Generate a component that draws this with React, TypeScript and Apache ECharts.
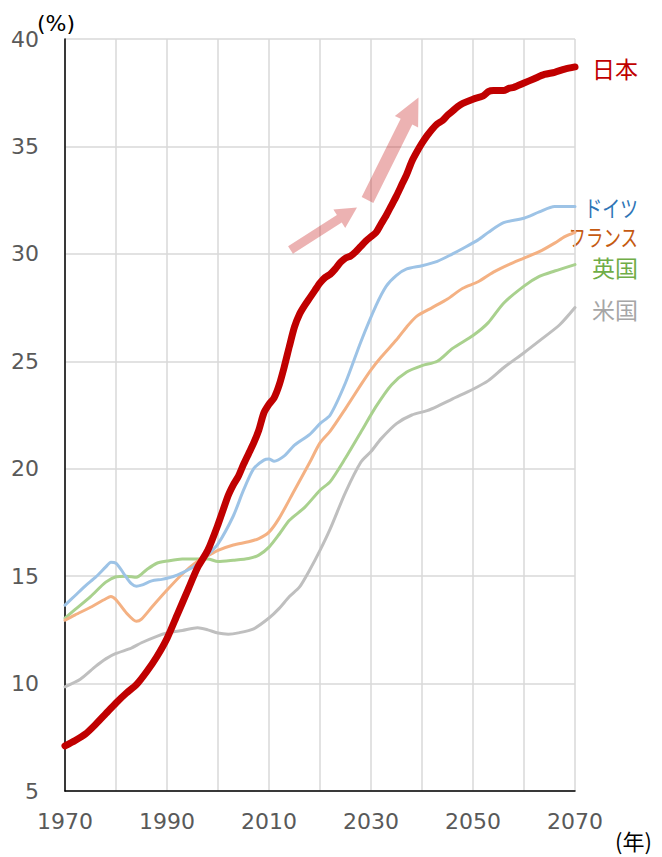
import React, { useEffect, useRef } from "react";
import * as echarts from "echarts";

// [year, % of population aged 65+]
const japanData: [number, number][] = [
  [1970, 7.1], [1972, 7.35], [1974, 7.65], [1976, 8.1], [1978, 8.6], [1980, 9.1], [1982, 9.55],
  [1984, 9.95], [1986, 10.55], [1988, 11.25], [1990, 12.1], [1992, 13.2], [1994, 14.3], [1996, 15.4],
  [1998, 16.2], [2000, 17.4], [2002, 18.75], [2003, 19.25], [2004, 19.65], [2005, 20.2], [2006, 20.7],
  [2007, 21.2], [2008, 21.8], [2009, 22.6], [2010, 23.0], [2011, 23.3], [2012, 23.9], [2013, 24.75],
  [2014, 25.7], [2015, 26.6], [2016, 27.2], [2017, 27.6], [2018, 27.95], [2019, 28.3], [2020, 28.65],
  [2021, 28.9], [2022, 29.05], [2023, 29.3], [2024, 29.6], [2025, 29.8], [2026, 29.9], [2027, 30.1],
  [2028, 30.35], [2029, 30.6], [2030, 30.8], [2031, 31.0], [2032, 31.4], [2033, 31.8], [2034, 32.25],
  [2035, 32.7], [2036, 33.2], [2037, 33.7], [2038, 34.3], [2039, 34.75], [2040, 35.15], [2041, 35.5],
  [2042, 35.8], [2043, 36.05], [2044, 36.2], [2045, 36.45], [2046, 36.65], [2047, 36.85], [2048, 37.0],
  [2050, 37.2], [2052, 37.35], [2053, 37.55], [2054, 37.6], [2056, 37.6], [2057, 37.7], [2058, 37.75],
  [2060, 37.95], [2062, 38.15], [2064, 38.35], [2066, 38.45], [2068, 38.6], [2070, 38.7],
];

const germanyData: [number, number][] = [
  [1970, 13.65], [1972, 14.1], [1974, 14.55], [1976, 14.95], [1978, 15.43], [1979, 15.65], [1980, 15.6],
  [1981, 15.3], [1982, 14.95], [1983, 14.65], [1984, 14.53], [1985, 14.58], [1987, 14.78], [1989, 14.85],
  [1990, 14.9], [1992, 15.05], [1995, 15.4], [1997, 15.75], [1998, 15.98], [2000, 16.5], [2003, 17.8],
  [2005, 19.0], [2007, 20.0], [2009, 20.4], [2010, 20.45], [2011, 20.35], [2013, 20.6], [2015, 21.1],
  [2018, 21.6], [2020, 22.1], [2022, 22.5], [2025, 24.0], [2028, 25.9], [2031, 27.6], [2033, 28.5],
  [2035, 29.0], [2037, 29.3], [2040, 29.45], [2043, 29.65], [2046, 30.0], [2048, 30.25], [2051, 30.65],
  [2053, 31.0], [2056, 31.45], [2060, 31.66], [2063, 31.95], [2066, 32.2], [2070, 32.2],
];

const franceData: [number, number][] = [
  [1970, 12.95], [1972, 13.2], [1975, 13.55], [1978, 13.95], [1979, 14.05], [1980, 13.9], [1982, 13.3],
  [1984, 12.9], [1985, 13.0], [1987, 13.55], [1990, 14.35], [1993, 15.1], [1996, 15.7], [1998, 15.95],
  [2000, 16.2], [2003, 16.45], [2006, 16.6], [2008, 16.75], [2010, 17.05], [2012, 17.7], [2015, 19.0],
  [2018, 20.3], [2020, 21.2], [2022, 21.75], [2025, 22.8], [2028, 23.9], [2030, 24.6], [2032, 25.2],
  [2035, 26.0], [2037, 26.6], [2039, 27.1], [2042, 27.5], [2045, 27.9], [2048, 28.4], [2051, 28.7],
  [2054, 29.15], [2057, 29.5], [2060, 29.8], [2063, 30.1], [2066, 30.5], [2068, 30.8], [2070, 31.0],
];

const ukData: [number, number][] = [
  [1970, 13.05], [1972, 13.45], [1975, 14.05], [1978, 14.72], [1980, 14.97], [1982, 15.0], [1984, 14.95],
  [1986, 15.3], [1988, 15.6], [1990, 15.7], [1993, 15.8], [1997, 15.8], [1998, 15.8], [2000, 15.68],
  [2003, 15.74], [2006, 15.82], [2008, 15.98], [2010, 16.35], [2012, 16.95], [2014, 17.6], [2017, 18.2],
  [2020, 19.0], [2022, 19.4], [2025, 20.5], [2028, 21.7], [2031, 22.9], [2034, 23.9], [2037, 24.5],
  [2040, 24.8], [2043, 25.0], [2046, 25.6], [2050, 26.2], [2053, 26.8], [2056, 27.7], [2060, 28.5],
  [2063, 28.95], [2066, 29.2], [2070, 29.5],
];

const usData: [number, number][] = [
  [1970, 9.85], [1973, 10.2], [1976, 10.8], [1978, 11.15], [1980, 11.4], [1983, 11.65], [1985, 11.9],
  [1988, 12.2], [1990, 12.35], [1993, 12.47], [1996, 12.6], [1998, 12.5], [2000, 12.35], [2002, 12.3],
  [2004, 12.36], [2007, 12.55], [2010, 13.05], [2012, 13.5], [2014, 14.05], [2016, 14.5], [2018, 15.3],
  [2020, 16.2], [2022, 17.2], [2025, 18.9], [2028, 20.3], [2030, 20.8], [2032, 21.4], [2035, 22.1],
  [2038, 22.5], [2041, 22.7], [2043, 22.9], [2046, 23.25], [2050, 23.7], [2053, 24.1], [2056, 24.7],
  [2060, 25.4], [2063, 25.95], [2067, 26.7], [2070, 27.5],
];

const seriesNames = ["米国", "英国", "フランス", "ドイツ", "日本"];
const yTicks = { min: 5, max: 40, interval: 5 };
const xTicks = { min: 1970, max: 2070, interval: 10, labelStep: 20 };

function arrowPoints(x0: number, y0: number, x1: number, y1: number, sw: number, hw: number, hl: number) {
  const L = Math.hypot(x1 - x0, y1 - y0);
  const ux = (x1 - x0) / L, uy = (y1 - y0) / L;
  const nx = -uy, ny = ux;
  const bx = x1 - ux * hl, by = y1 - uy * hl;
  return [
    [x0 + nx * sw / 2, y0 + ny * sw / 2],
    [bx + nx * sw / 2, by + ny * sw / 2],
    [bx + nx * hw / 2, by + ny * hw / 2],
    [x1, y1],
    [bx - nx * hw / 2, by - ny * hw / 2],
    [bx - nx * sw / 2, by - ny * sw / 2],
    [x0 - nx * sw / 2, y0 - ny * sw / 2],
  ];
}

export default function App() {
  const ref = useRef<HTMLDivElement>(null);
  useEffect(() => {
    if (!ref.current) return;
    const chart = echarts.init(ref.current, null, { renderer: "svg" });
    const numFont = "'DejaVu Sans', Verdana, sans-serif";
    const cjkFont = "'Noto Sans CJK JP', sans-serif";
    const mk = (name: string, data: [number, number][], color: string, width: number) => ({
      name,
      type: "line",
      data,
      smooth: 0.25,
      showSymbol: false,
      symbol: "none",
      lineStyle: { color, width, cap: "round", join: "round" },
      itemStyle: { color },
    });
    const arrowFill = "rgba(192,0,0,0.3)";
    const lbl = (text: string, y: number, fill: string, sx: number) => ({
      type: "text", x: 638, y, scaleX: sx,
      style: { text, fill, font: `23px ${cjkFont}`, textAlign: "right", textVerticalAlign: "middle" },
    });
    chart.setOption({
      animation: false,
      grid: { left: 65, right: 87, top: 39, bottom: 66, containLabel: false },
      xAxis: {
        type: "value",
        min: xTicks.min,
        max: xTicks.max,
        interval: xTicks.interval,
        axisLine: { show: true, lineStyle: { color: "#000", width: 1.5 } },
        axisTick: { show: false },
        axisLabel: {
          margin: 19,
          color: "#595959",
          fontSize: 22,
          fontFamily: numFont,
          formatter: (v: number) => ((v - xTicks.min) % xTicks.labelStep === 0 ? String(v) : ""),
        },
        splitLine: { show: true, lineStyle: { color: "#d9d9d9", width: 1.5 } },
      },
      yAxis: {
        type: "value",
        min: yTicks.min,
        max: yTicks.max,
        interval: yTicks.interval,
        axisLine: { show: true, lineStyle: { color: "#000", width: 1.5 } },
        axisTick: { show: false },
        axisLabel: { margin: 26, color: "#595959", fontSize: 22, fontFamily: numFont },
        splitLine: { show: true, lineStyle: { color: "#d9d9d9", width: 1.5 } },
      },
      series: [
        mk(seriesNames[0], usData, "#bfbfbf", 3),
        mk(seriesNames[1], ukData, "#a9d18e", 3),
        mk(seriesNames[2], franceData, "#f4b183", 3),
        mk(seriesNames[3], germanyData, "#9dc3e6", 3),
        mk(seriesNames[4], japanData, "#c00000", 7),
      ],
      graphic: [
        { type: "polygon", z: 100, shape: { points: arrowPoints(290.5, 250, 357, 207.5, 9, 22, 21) }, style: { fill: arrowFill } },
        { type: "polygon", z: 100, shape: { points: arrowPoints(367.5, 200, 418.5, 97.5, 13, 26, 27) }, style: { fill: arrowFill } },
        { type: "text", x: 37, y: 23, style: { text: "(%)", fill: "#000", font: `22px ${numFont}`, textVerticalAlign: "middle" } },
        { type: "text", x: 615, y: 840, style: { text: "(年)", fill: "#000", font: `22px ${cjkFont}`, textVerticalAlign: "middle" } },
        lbl("日本", 68, "#c00000", 1),
        lbl("ドイツ", 207, "#2e75b6", 0.78),
        lbl("フランス", 236, "#c55a11", 0.76),
        lbl("英国", 267, "#70ad47", 1),
        lbl("米国", 309, "#a6a6a6", 1),
      ],
    });
    return () => chart.dispose();
  }, []);
  return <div ref={ref} style={{ position: "fixed", left: 0, top: 0, width: 662, height: 857, background: "#fff" }} />;
}
